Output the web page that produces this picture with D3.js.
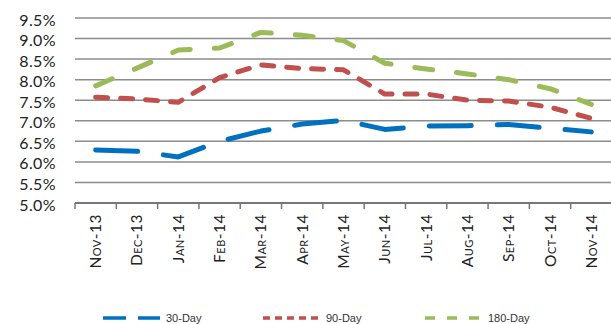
<!DOCTYPE html>
<html>
<head>
<meta charset="utf-8">
<script src="https://cdn.jsdelivr.net/npm/d3@7"></script>
<style>
  html, body { margin: 0; padding: 0; background: #fff; }
  svg { display: block; }
  .ytick { font-family: Lato, "Open Sans", sans-serif; font-size: 16px; fill: #222; letter-spacing: 0.4px; }
  .xtick { font-family: Lato, "Open Sans", sans-serif; font-size: 15.5px; fill: #222; font-variant: small-caps; letter-spacing: 0.5px; }
  .legend { font-family: "Liberation Sans", Arial, sans-serif; font-size: 11px; fill: #333; }
</style>
</head>
<body>
<svg id="chart" width="611" height="324"></svg>
<script>
// Month labels along the bottom axis
const months = ["Nov-13", "Dec-13", "Jan-14", "Feb-14", "Mar-14", "Apr-14", "May-14",
                "Jun-14", "Jul-14", "Aug-14", "Sep-14", "Oct-14", "Nov-14"];

// Rates in percent for each term
const day30  = [6.29, 6.26, 6.12, 6.50, 6.75, 6.92, 7.01, 6.79, 6.87, 6.88, 6.91, 6.82, 6.73];
const day90  = [7.57, 7.53, 7.45, 8.05, 8.36, 8.27, 8.24, 7.65, 7.65, 7.50, 7.48, 7.33, 7.06];
const day180 = [7.85, 8.28, 8.72, 8.77, 9.15, 9.08, 8.95, 8.40, 8.26, 8.14, 8.00, 7.78, 7.40];

const yTicks = [5.0, 5.5, 6.0, 6.5, 7.0, 7.5, 8.0, 8.5, 9.0, 9.5];

const seriesNames = ["30-Day", "90-Day", "180-Day"];
const seriesValues = [day30, day90, day180];
const seriesColors = ["#0070c0", "#c0504d", "#9bbb59"];
const seriesDash = ["42,26", "12,13", "18,24"];

const svg = d3.select("#chart");

const x = d3.scaleBand().domain(months).range([75, 612]).paddingInner(0).paddingOuter(0);
const y = d3.scaleLinear().domain([5.0, 9.5]).range([203, 18]);

// Horizontal gridlines
svg.append("g")
  .selectAll("line")
  .data(yTicks.filter(t => t > 5.0))
  .join("line")
  .attr("x1", 75).attr("x2", 611)
  .attr("y1", d => y(d)).attr("y2", d => y(d))
  .attr("stroke", "#8c8c8c").attr("stroke-width", 1.5);

// Y tick labels
svg.append("g")
  .selectAll("text")
  .data(yTicks)
  .join("text")
  .attr("class", "ytick")
  .attr("x", 56)
  .attr("y", d => y(d) + 2)
  .attr("dy", "0.35em")
  .attr("text-anchor", "end")
  .text(d => d.toFixed(1) + "%");

// Bottom axis with ticks between months
const xAxis = svg.append("g").attr("transform", `translate(0,${y(5.0)})`)
  .call(d3.axisBottom(x).tickSize(0).tickFormat(""));
xAxis.select(".domain").attr("stroke", "#777").attr("stroke-width", 1.8).attr("d", "M75,0H611");
svg.append("g")
  .selectAll("line")
  .data(months)
  .join("line")
  .attr("x1", d => x(d)).attr("x2", d => x(d))
  .attr("y1", y(5.0)).attr("y2", y(5.0) + 6)
  .attr("stroke", "#777").attr("stroke-width", 1.5);

// Rotated month labels
svg.append("g")
  .selectAll("text")
  .data(months)
  .join("text")
  .attr("class", "xtick")
  .attr("text-anchor", "end")
  .attr("transform", d => `translate(${x(d) + x.bandwidth() / 2 + 5.5},214) rotate(-90)`)
  .text(d => d);

// Series lines
const line = d3.line()
  .x((d, i) => x(months[i]) + x.bandwidth() / 2)
  .y(d => y(d));

seriesValues.forEach((vals, k) => {
  svg.append("path")
    .datum(vals)
    .attr("fill", "none")
    .attr("stroke", seriesColors[k])
    .attr("stroke-width", 5)
    .attr("stroke-linecap", "round")
    .attr("stroke-linejoin", "round")
    .attr("stroke-dasharray", seriesDash[k])
    .attr("d", line);
});

// Legend
const legendX = [103, 263, 425];
const legendDash = ["23,12", "7,5", "10,12"];
const lg = svg.append("g");
seriesNames.forEach((name, k) => {
  lg.append("line")
    .attr("x1", legendX[k]).attr("x2", legendX[k] + 57)
    .attr("y1", 318).attr("y2", 318)
    .attr("stroke", seriesColors[k])
    .attr("stroke-width", 3.5)
    .attr("stroke-dasharray", legendDash[k]);
  lg.append("text")
    .attr("class", "legend")
    .attr("x", legendX[k] + 63)
    .attr("y", 318)
    .attr("dy", "0.35em")
    .text(name);
});
</script>
</body>
</html>
